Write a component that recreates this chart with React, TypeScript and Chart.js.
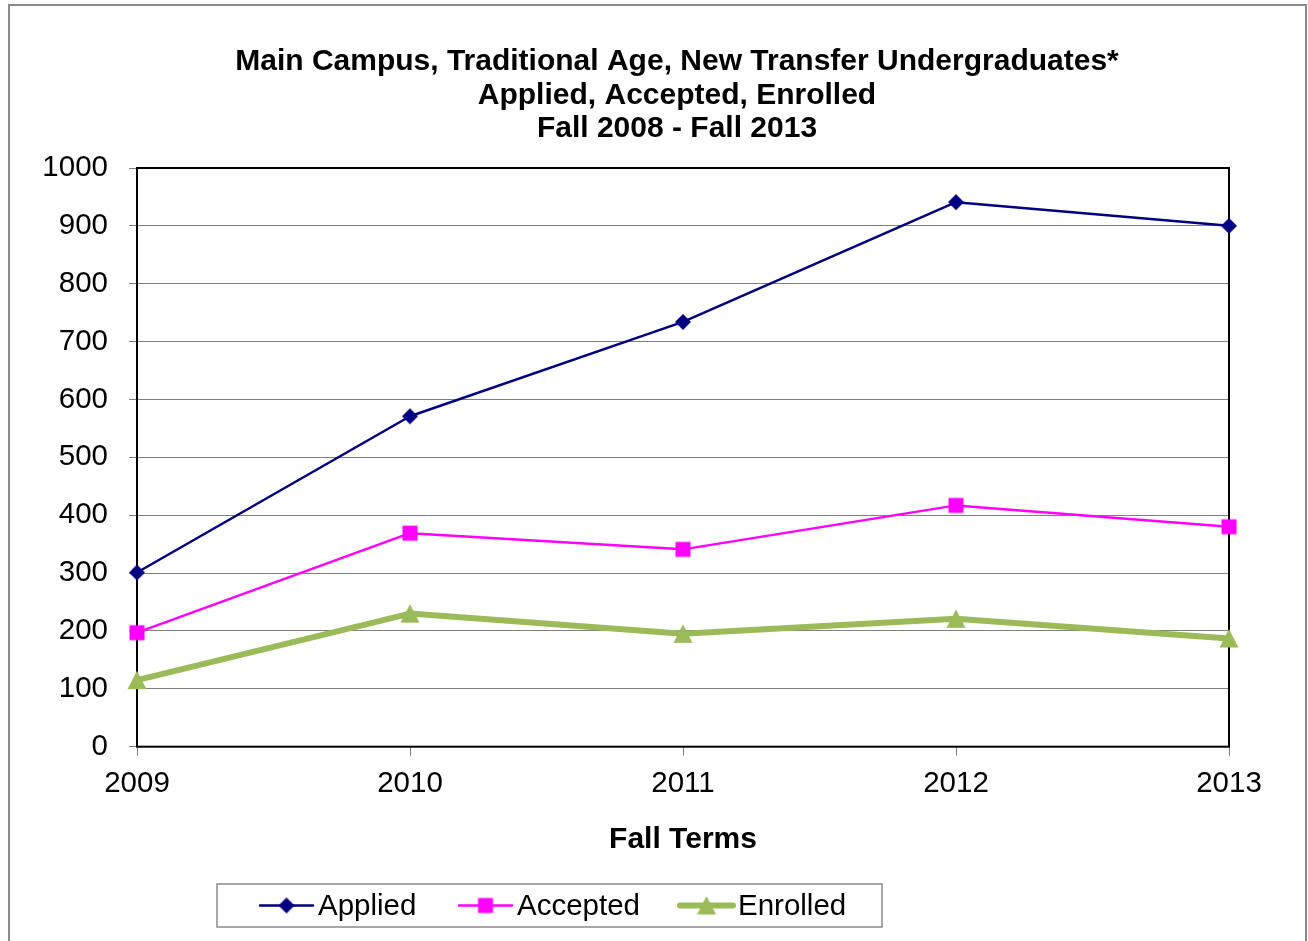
import React, { useEffect, useRef } from "react";
import { Chart, registerables } from "chart.js";

Chart.register(...registerables);

const years = ["2009", "2010", "2011", "2012", "2013"];
const applied = [301, 571, 734, 941, 900];
const accepted = [197, 369, 341, 417, 380];
const enrolled = [115, 230, 195, 221, 187];
const seriesNames = ["Applied", "Accepted", "Enrolled"];
const titleLines = [
  "Main Campus, Traditional Age, New Transfer Undergraduates*",
  "Applied, Accepted, Enrolled",
  "Fall 2008 - Fall 2013",
];
const xTitle = "Fall Terms";
const yMin = 0;
const yMax = 1000;
const yStep = 100;

const FONT = "'Liberation Sans', Arial, Helvetica, sans-serif";
const COLORS = ["#000080", "#FF00FF", "#9BBB59"];
const LINE_WIDTHS = [2.5, 2.5, 6];

function makeMarker(kind: string, color: string): HTMLCanvasElement {
  const c = document.createElement("canvas");
  c.width = 24;
  c.height = 24;
  const g = c.getContext("2d")!;
  g.fillStyle = color;
  g.beginPath();
  if (kind === "diamond") {
    g.moveTo(12, 4);
    g.lineTo(20, 12);
    g.lineTo(12, 20);
    g.lineTo(4, 12);
  } else if (kind === "square") {
    g.rect(4.5, 4.5, 15, 15);
  } else {
    g.moveTo(12, 2.5);
    g.lineTo(21.5, 21);
    g.lineTo(2.5, 21);
  }
  g.closePath();
  g.fill();
  return c;
}

export default function App() {
  const ref = useRef<HTMLCanvasElement>(null);

  useEffect(() => {
    const markers = [
      makeMarker("diamond", COLORS[0]),
      makeMarker("square", COLORS[1]),
      makeMarker("triangle", COLORS[2]),
    ];
    const seriesData = [applied, accepted, enrolled];

    const frame = {
      id: "frame",
      beforeDraw(chart: any) {
        const ctx = chart.ctx;
        ctx.save();
        ctx.fillStyle = "#ffffff";
        ctx.fillRect(0, 0, chart.width, chart.height);
        ctx.strokeStyle = "#8a8a8a";
        ctx.lineWidth = 2;
        ctx.strokeRect(9, 5, 1297, 980);
        ctx.restore();
      },
      beforeDatasetsDraw(chart: any) {
        const { ctx, chartArea } = chart;
        ctx.save();
        ctx.strokeStyle = "#000000";
        ctx.lineWidth = 2;
        ctx.strokeRect(
          chartArea.left,
          chartArea.top,
          chartArea.right - chartArea.left,
          chartArea.bottom - chartArea.top
        );
        ctx.restore();
      },
      afterDraw(chart: any) {
        const ctx = chart.ctx;
        ctx.save();
        // title
        ctx.fillStyle = "#000000";
        ctx.font = `bold 30px ${FONT}`;
        ctx.textAlign = "center";
        ctx.textBaseline = "middle";
        titleLines.forEach((t, i) => ctx.fillText(t, 677, 62 + i * 33.3));
        // legend
        ctx.strokeStyle = "#8a8a8a";
        ctx.lineWidth = 1.5;
        ctx.strokeRect(217, 884, 665, 43);
        const lineStarts = [260, 459, 680];
        const cy = 905.5;
        ctx.font = `29.5px ${FONT}`;
        ctx.textBaseline = "middle";
        ctx.textAlign = "left";
        for (let i = 0; i < 3; i++) {
          const x0 = lineStarts[i];
          ctx.strokeStyle = COLORS[i];
          ctx.lineWidth = LINE_WIDTHS[i];
          ctx.lineCap = "round";
          ctx.beginPath();
          ctx.moveTo(x0, cy);
          ctx.lineTo(x0 + 53, cy);
          ctx.stroke();
          const m = markers[i];
          ctx.drawImage(m, x0 + 26.5 - m.width / 2, cy - m.height / 2);
          ctx.fillStyle = "#000000";
          ctx.fillText(seriesNames[i], x0 + 58, cy + 1);
        }
        ctx.restore();
      },
    };

    const chart = new Chart(ref.current!, {
      type: "line",
      data: {
        labels: years,
        datasets: seriesData.map((d, i) => ({
          label: seriesNames[i],
          data: d,
          borderColor: COLORS[i],
          backgroundColor: COLORS[i],
          borderWidth: LINE_WIDTHS[i],
          borderJoinStyle: "round" as const,
          borderCapStyle: "round" as const,
          pointStyle: markers[i] as any,
          pointRadius: 9,
          pointHoverRadius: 9,
          tension: 0,
          fill: false,
          order: 3 - i,
        })),
      },
      options: {
        animation: false,
        responsive: false,
        maintainAspectRatio: false,
        layout: { padding: { left: 0, right: 79, top: 168, bottom: 83 } },
        plugins: {
          legend: { display: false },
          tooltip: { enabled: false },
          title: { display: false },
        },
        scales: {
          x: {
            type: "category",
            offset: false,
            grid: {
              drawOnChartArea: false,
              drawTicks: true,
              tickLength: 9,
              color: "#808080",
              tickColor: "#808080",
            },
            border: { display: false },
            ticks: {
              color: "#000000",
              font: { family: FONT, size: 29.5 },
              padding: 10,
              maxRotation: 0,
              autoSkip: false,
            },
            title: {
              display: true,
              text: xTitle,
              color: "#000000",
              font: { family: FONT, size: 30, weight: "bold", lineHeight: 1.2 },
              padding: { top: 0, bottom: 0 },
            },
            afterFit: (s: any) => {
              s.height = 111.3;
            },
          },
          y: {
            min: yMin,
            max: yMax,
            ticks: {
              stepSize: yStep,
              color: "#000000",
              font: { family: FONT, size: 29.5 },
              padding: 21,
              callback: (v: any) => String(v),
            },
            grid: {
              color: "#808080",
              tickColor: "#808080",
              drawTicks: true,
              tickLength: 8,
            },
            border: { display: false },
            afterFit: (s: any) => {
              s.width = 137;
            },
          },
        },
      },
      plugins: [frame],
    });
    return () => chart.destroy();
  }, []);

  return (
    <div style={{ position: "absolute", left: 0, top: 0, width: 1308, height: 941 }}>
      <canvas
        ref={ref}
        width={1308}
        height={941}
        aria-label={titleLines.join(" ")}
        style={{ display: "block", width: 1308, height: 941 }}
      />
    </div>
  );
}
